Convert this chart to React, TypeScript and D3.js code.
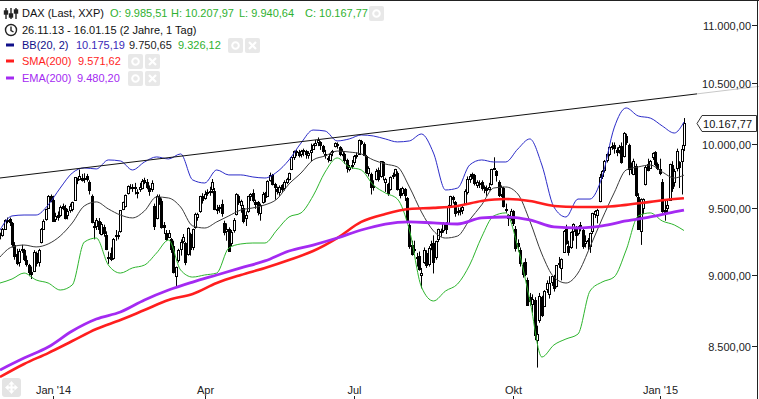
import { useEffect, useRef } from 'react';
import * as d3 from 'd3';

type Candle = [number, number, number, number]; // open, high, low, close

// daily candles, one array per month
const nov13: Candle[] = [
  [9300, 9310, 9260, 9292], [9290, 9345, 9280, 9336], [9340, 9410, 9330, 9403], [9400, 9424, 9380, 9405],
];
const dec13: Candle[] = [
  [9410, 9424, 9360, 9389], [9380, 9390, 9200, 9225], [9220, 9240, 9110, 9140], [9150, 9190, 9070, 9085], [9090, 9190, 9060, 9172],
  [9180, 9220, 9160, 9190], [9185, 9190, 9100, 9114], [9110, 9140, 9060, 9077], [9070, 9080, 8990, 9017], [9020, 9060, 8970, 9006],
  [9030, 9180, 9020, 9163], [9160, 9170, 9060, 9085], [9090, 9190, 9060, 9181], [9240, 9345, 9230, 9336], [9340, 9410, 9330, 9400],
  [9410, 9490, 9400, 9488], [9500, 9595, 9495, 9589], [9585, 9600, 9540, 9552],
];
const jan14: Candle[] = [
  [9560, 9590, 9390, 9400], [9410, 9460, 9390, 9435],
  [9440, 9470, 9400, 9428], [9440, 9515, 9430, 9506], [9510, 9530, 9480, 9498], [9500, 9520, 9410, 9421], [9440, 9490, 9410, 9473],
  [9480, 9530, 9460, 9510], [9490, 9545, 9470, 9540], [9560, 9735, 9555, 9733], [9720, 9730, 9680, 9717], [9720, 9794, 9710, 9742],
  [9730, 9760, 9700, 9715], [9720, 9765, 9690, 9730], [9740, 9760, 9700, 9720], [9700, 9710, 9600, 9631], [9590, 9600, 9380, 9392],
  [9360, 9390, 9260, 9349], [9360, 9420, 9330, 9406], [9400, 9420, 9300, 9336], [9300, 9390, 9290, 9374], [9350, 9370, 9280, 9306],
];
const feb14: Candle[] = [
  [9290, 9320, 9180, 9186], [9130, 9170, 9080, 9128], [9160, 9200, 9100, 9116], [9120, 9270, 9110, 9265], [9290, 9330, 9250, 9291],
  [9290, 9320, 9260, 9285], [9320, 9480, 9310, 9478], [9490, 9545, 9480, 9540], [9510, 9600, 9500, 9596], [9610, 9670, 9600, 9662],
  [9660, 9680, 9640, 9660], [9660, 9680, 9620, 9656], [9660, 9690, 9600, 9660], [9610, 9640, 9570, 9618], [9640, 9690, 9620, 9656],
  [9650, 9720, 9640, 9708], [9710, 9730, 9680, 9699], [9700, 9720, 9640, 9661], [9650, 9670, 9590, 9628], [9640, 9710, 9620, 9692],
];
const mar14: Candle[] = [
  [9510, 9530, 9330, 9359], [9420, 9600, 9410, 9589], [9580, 9600, 9520, 9542], [9550, 9570, 9340, 9351], [9370, 9390, 9300, 9350],
  [9310, 9330, 9250, 9265], [9280, 9330, 9270, 9307], [9260, 9270, 9160, 9189], [9210, 9250, 9010, 9017], [8990, 9060, 8913, 9056],
  [9110, 9190, 9090, 9181], [9190, 9260, 9140, 9242], [9250, 9300, 9230, 9277], [9230, 9240, 9070, 9093], [9150, 9350, 9140, 9342],
  [9300, 9310, 9140, 9189], [9200, 9340, 9180, 9338], [9350, 9460, 9340, 9448], [9430, 9460, 9400, 9451], [9470, 9590, 9460, 9587],
  [9590, 9610, 9530, 9556],
];
const apr14: Candle[] = [
  [9570, 9630, 9560, 9603], [9610, 9640, 9590, 9623], [9620, 9660, 9590, 9628], [9640, 9720, 9610, 9695],
  [9630, 9650, 9480, 9490], [9480, 9520, 9450, 9490], [9500, 9520, 9460, 9507], [9530, 9560, 9430, 9455], [9380, 9400, 9290, 9315],
  [9320, 9380, 9250, 9339], [9340, 9350, 9170, 9173], [9230, 9330, 9210, 9317], [9330, 9420, 9310, 9409],
  [9450, 9610, 9440, 9600], [9590, 9600, 9520, 9545], [9520, 9560, 9460, 9549], [9500, 9520, 9380, 9401],
  [9420, 9470, 9360, 9446], [9470, 9590, 9460, 9585], [9590, 9610, 9550, 9603],
];
const may14: Candle[] = [
  [9610, 9640, 9540, 9556],
  [9540, 9560, 9490, 9529], [9540, 9550, 9440, 9467], [9460, 9530, 9400, 9521], [9540, 9620, 9530, 9607], [9610, 9620, 9540, 9581],
  [9590, 9710, 9580, 9703], [9710, 9770, 9700, 9755], [9750, 9760, 9670, 9681], [9680, 9690, 9560, 9656], [9640, 9660, 9600, 9630],
  [9620, 9670, 9590, 9659], [9670, 9680, 9620, 9639], [9650, 9710, 9630, 9697], [9700, 9730, 9680, 9721], [9720, 9770, 9710, 9768],
  [9800, 9900, 9790, 9892], [9890, 9945, 9870, 9940], [9940, 9950, 9900, 9939], [9930, 9950, 9890, 9913], [9920, 9950, 9890, 9943],
];
const jun14: Candle[] = [
  [9950, 9960, 9900, 9950], [9940, 9950, 9880, 9920], [9910, 9940, 9880, 9926], [9930, 10000, 9860, 9947], [9960, 10000, 9950, 9987],
  [9990, 10030, 9980, 10008], [10010, 10050, 9980, 10028], [10010, 10020, 9950, 9990], [9980, 9990, 9920, 9938], [9920, 9950, 9880, 9912],
  [9880, 9900, 9850, 9883], [9870, 9930, 9860, 9920], [9930, 9950, 9900, 9942], [9980, 10010, 9970, 10004], [10000, 10010, 9960, 9987],
  [9970, 9980, 9900, 9920], [9920, 9960, 9900, 9938], [9920, 9930, 9840, 9867], [9870, 9880, 9770, 9805], [9800, 9830, 9780, 9815],
  [9820, 9870, 9800, 9833],
];
const jul14: Candle[] = [
  [9850, 9910, 9830, 9903], [9910, 9930, 9880, 9902], [9920, 10033, 9910, 10029], [10020, 10030, 9990, 10009],
  [10000, 10010, 9900, 9906], [9900, 9910, 9760, 9772], [9770, 9820, 9740, 9808], [9760, 9770, 9600, 9659], [9660, 9710, 9630, 9666],
  [9720, 9800, 9710, 9783], [9790, 9810, 9700, 9719], [9740, 9860, 9730, 9859], [9850, 9860, 9710, 9753], [9700, 9730, 9620, 9720],
  [9680, 9690, 9590, 9612], [9640, 9740, 9630, 9734], [9740, 9770, 9720, 9753], [9760, 9800, 9740, 9797], [9770, 9780, 9630, 9644],
  [9640, 9650, 9570, 9593], [9610, 9660, 9590, 9653], [9640, 9650, 9550, 9593], [9570, 9580, 9400, 9407],
];
const aug14: Candle[] = [
  [9370, 9380, 9190, 9210],
  [9220, 9250, 9140, 9154], [9180, 9250, 9160, 9189], [9130, 9160, 9060, 9130], [9140, 9170, 9030, 9039], [9000, 9050, 8903, 9010],
  [9090, 9200, 9080, 9180], [9160, 9180, 9050, 9069], [9080, 9210, 9060, 9199], [9220, 9250, 9180, 9225], [9230, 9290, 9010, 9092],
  [9130, 9250, 9110, 9245], [9260, 9340, 9240, 9334], [9320, 9340, 9280, 9314], [9330, 9390, 9310, 9380], [9380, 9390, 9300, 9339],
  [9380, 9520, 9370, 9510], [9520, 9590, 9510, 9588], [9580, 9590, 9530, 9569], [9540, 9550, 9430, 9462], [9470, 9500, 9440, 9470],
];
const sep14: Candle[] = [
  [9480, 9500, 9440, 9479], [9480, 9520, 9450, 9507], [9530, 9640, 9520, 9626], [9620, 9740, 9600, 9724], [9720, 9760, 9690, 9747],
  [9750, 9770, 9720, 9758], [9750, 9760, 9670, 9686], [9670, 9710, 9650, 9700], [9690, 9710, 9650, 9691], [9700, 9710, 9630, 9651],
  [9660, 9670, 9610, 9660], [9650, 9670, 9590, 9632], [9640, 9690, 9630, 9661], [9680, 9800, 9670, 9799], [9810, 9891, 9790, 9799],
  [9780, 9790, 9700, 9749], [9700, 9710, 9580, 9595], [9600, 9670, 9580, 9661], [9650, 9660, 9500, 9510], [9490, 9530, 9460, 9490],
  [9440, 9450, 9360, 9422], [9420, 9490, 9400, 9474],
];
const oct14: Candle[] = [
  [9470, 9480, 9360, 9382], [9340, 9360, 9170, 9195],
  [9230, 9260, 9170, 9209], [9180, 9200, 9060, 9086], [9070, 9090, 8980, 9005], [9090, 9120, 8990, 9005], [8960, 8980, 8780, 8788],
  [8840, 8870, 8780, 8812], [8790, 8860, 8730, 8825], [8820, 8840, 8540, 8572], [8540, 8640, 8354, 8582], [8680, 8870, 8660, 8850],
  [8840, 8850, 8700, 8717], [8780, 8890, 8770, 8886], [8900, 8960, 8870, 8940], [8860, 8990, 8830, 8940], [8950, 8990, 8920, 8988],
  [8990, 9000, 8880, 8902], [8920, 9070, 8910, 9068], [9080, 9130, 9050, 9083], [9050, 9120, 8960, 9114], [9170, 9330, 9160, 9326],
];
const nov14: Candle[] = [
  [9340, 9370, 9220, 9235], [9210, 9250, 9140, 9167], [9200, 9320, 9190, 9315], [9320, 9380, 9250, 9377], [9350, 9360, 9190, 9291],
  [9310, 9360, 9290, 9351], [9370, 9390, 9320, 9369], [9330, 9340, 9190, 9210], [9230, 9290, 9200, 9248], [9250, 9270, 9180, 9252],
  [9210, 9310, 9160, 9306], [9320, 9460, 9300, 9456], [9450, 9480, 9420, 9473], [9440, 9490, 9380, 9484], [9550, 9760, 9540, 9732],
  [9740, 9790, 9720, 9785], [9790, 9870, 9770, 9861], [9870, 9920, 9850, 9915], [9920, 9980, 9900, 9974], [9980, 10010, 9950, 9980],
];
const dec14: Candle[] = [
  [9990, 10010, 9920, 9963], [9950, 9970, 9900, 9934], [9950, 9990, 9920, 9971], [9980, 10010, 9840, 9851], [9900, 10093, 9890, 10087],
  [10060, 10080, 9990, 10014], [9990, 10000, 9750, 9799], [9810, 9850, 9760, 9799], [9760, 9880, 9750, 9862], [9820, 9840, 9580, 9594],
  [9580, 9610, 9330, 9334], [9320, 9570, 9219, 9564], [9500, 9570, 9450, 9563], [9680, 9830, 9670, 9811], [9840, 9880, 9780, 9787],
  [9810, 9870, 9800, 9865], [9890, 9930, 9870, 9922], [9930, 9940, 9820, 9835], [9840, 9850, 9790, 9806],
];
const jan15: Candle[] = [
  [9800, 9880, 9750, 9765],
  [9700, 9720, 9460, 9473], [9480, 9560, 9400, 9469], [9500, 9550, 9460, 9518], [9560, 9840, 9550, 9838], [9830, 9860, 9620, 9648],
  [9700, 9800, 9660, 9781], [9810, 9960, 9780, 9941], [9850, 9860, 9650, 9817], [9860, 9990, 9600, 9960], [9985.51, 10207.97, 9940.64, 10167.77],
];

const months = [nov13, dec13, jan14, feb14, mar14, apr14, may14, jun14, jul14, aug14, sep14, oct14, nov14, dec14, jan15];
const axisMonths: [string, Candle[]][] = [["Jan '14", jan14], ['Apr', apr14], ['Jul', jul14], ['Okt', oct14], ["Jan '15", jan15]];
const priceTicks = [8500, 9000, 9500, 10000, 10500, 11000];

// Bollinger band, read every 5th trading day (last one = last day)
const bbUpper = [9330, 9436, 9443, 9443, 9520, 9650, 9767, 9807, 9799, 9870, 9862, 9791, 9854, 9894, 9878, 9918, 9713, 9689, 9791, 9752,
  9752, 9736, 9728, 9775, 9870, 10005, 10110, 10102, 10022, 10038, 10070, 10062, 10038, 10014, 10022, 10078, 9925, 9635, 9650, 9830,
  9870, 9854, 9854, 9957, 10038, 9830, 9504, 9428, 9565, 9565, 9736, 10127, 10291, 10225, 10208, 10143, 10086, 10175.19];
const bbMiddle = [9130, 9204, 9218, 9204, 9226, 9285, 9383, 9512, 9543, 9489, 9443, 9421, 9474, 9581, 9573, 9504, 9361, 9345, 9391, 9436,
  9481, 9497, 9520, 9565, 9681, 9767, 9870, 9902, 9941, 9933, 9918, 9870, 9838, 9815, 9658, 9466, 9323, 9270, 9285, 9406,
  9520, 9650, 9658, 9604, 9398, 9152, 8984, 8941, 9013, 9204, 9413, 9612, 9791, 9815, 9830, 9775, 9728, 9750.65];
const bbLower = [8941, 8970, 9013, 8963, 8941, 8891, 8927, 9240, 9270, 9071, 9013, 9050, 9071, 9159, 9255, 9035, 8984, 8999, 9013, 9196,
  9226, 9233, 9233, 9330, 9428, 9459, 9589, 9775, 9886, 9815, 9791, 9674, 9612, 9565, 9330, 8913, 8813, 8884, 8934, 9071,
  9278, 9436, 9459, 9204, 8820, 8425, 8507, 8548, 8582, 8884, 8948, 8984, 9181, 9436, 9459, 9398, 9368, 9326.12];

// moving averages, read every 10th trading day
const sma200 = [8291, 8378, 8452, 8534, 8617, 8679, 8749, 8820, 8863, 8941, 8999, 9050, 9108, 9174, 9270, 9391, 9451, 9489, 9497, 9512,
  9550, 9565, 9550, 9512, 9504, 9504, 9520, 9543, 9565, 9571.62];
const ema200 = [8338, 8418, 8493, 8603, 8686, 8735, 8820, 8891, 8948, 8999, 9050, 9101, 9174, 9218, 9270, 9330, 9375, 9391, 9383, 9375,
  9421, 9428, 9406, 9353, 9345, 9361, 9398, 9428, 9466, 9480.20];

// drawn trend line: [trading day, price]
const trendLine: [number, number][] = [[0, 9728], [289, 10407]];

const FONT = "'Liberation Sans', Arial, sans-serif";

export default function App() {
  const svgRef = useRef<SVGSVGElement>(null);

  useEffect(() => {
    if (!svgRef.current) return;
    const svg = d3.select(svgRef.current);
    svg.selectAll('*').remove();

    const width = 759;
    const height = 399;
    const plotRight = 697;

    const candles = months.flat();
    const last = candles.length - 1;
    const de = d3.formatLocale({ decimal: ',', thousands: '.', grouping: [3], currency: ['', ''] });
    const fmt = de.format(',.2f');

    const x = d3.scaleLinear().domain([0, 289]).range([0, 696]);
    const y = d3.scaleLog().domain([8500, 11000]).range([346, 25]);

    svg.append('rect').attr('width', width).attr('height', height).attr('fill', '#fff');

    svg.append('defs').append('clipPath').attr('id', 'plot')
      .append('rect').attr('x', 0).attr('y', 0).attr('width', plotRight).attr('height', 383);

    const plot = svg.append('g').attr('clip-path', 'url(#plot)');

    // Candles
    const cx = (i: number) => Math.round(x(i)) + 0.5;
    const cg = plot.append('g');
    candles.forEach((d, i) => {
      const [o, h, l, c] = d;
      cg.append('line')
        .attr('x1', cx(i)).attr('x2', cx(i))
        .attr('y1', y(h)).attr('y2', y(l))
        .attr('stroke', '#000').attr('stroke-width', 1);
      const top = Math.round(y(Math.max(o, c))) + 0.5;
      const bot = Math.round(y(Math.min(o, c))) + 0.5;
      cg.append('rect')
        .attr('x', cx(i) - 1).attr('y', top)
        .attr('width', 2).attr('height', Math.max(1, bot - top))
        .attr('fill', c >= o ? '#fff' : '#000')
        .attr('stroke', '#000').attr('stroke-width', 1);
    });

    // Bollinger band
    const bandDays = d3.range(0, last, 5).concat([last]);
    const maDays = d3.range(0, last, 10).concat([last]);
    const line = (days: number[]) => d3.line<number>()
      .x((_, i) => x(days[i]))
      .y(d => y(d))
      .curve(d3.curveMonotoneX);

    const series: [number[], number[], string, number][] = [
      [bbUpper, bandDays, '#2b2bc8', 1],
      [bbMiddle, bandDays, '#3a3a3a', 1],
      [bbLower, bandDays, '#2db52d', 1],
      [sma200, maDays, '#ff1e1e', 2.6],
      [ema200, maDays, '#a42af2', 2.8],
    ];
    series.forEach(([vals, days, color, w]) => {
      plot.append('path')
        .datum(vals)
        .attr('fill', 'none')
        .attr('stroke', color)
        .attr('stroke-width', w)
        .attr('d', line(days));
    });

    // Trend line (continues faintly over the price axis)
    const [p0, p1] = trendLine;
    const tx0 = x(p0[0]), ty0 = y(p0[1]), tx1 = x(p1[0]), ty1 = y(p1[1]);
    const slope = (ty1 - ty0) / (tx1 - tx0);
    svg.append('line')
      .attr('x1', tx0).attr('y1', ty0).attr('x2', plotRight).attr('y2', ty0 + slope * (plotRight - tx0))
      .attr('stroke', '#111').attr('stroke-width', 1);
    svg.append('line')
      .attr('x1', plotRight).attr('y1', ty0 + slope * (plotRight - tx0))
      .attr('x2', width).attr('y2', ty0 + slope * (width - tx0))
      .attr('stroke', '#c8c8c8').attr('stroke-width', 1);

    // Price axis
    const ya = svg.append('g').style('font-family', FONT).style('font-size', '11px');
    priceTicks.forEach(v => {
      const yy = Math.round(y(v)) + 0.5;
      ya.append('text').attr('x', 751).attr('y', yy + 4).attr('text-anchor', 'end').attr('fill', '#222').text(fmt(v));
      ya.append('line').attr('x1', 752).attr('x2', 757).attr('y1', yy).attr('y2', yy).attr('stroke', '#222');
    });

    // Last price marker
    const lastClose = candles[last][3];
    const ly = Math.round(y(lastClose)) + 0.5;
    svg.append('path')
      .attr('d', `M${plotRight},${ly} L${plotRight + 5},${ly - 8} L756.5,${ly - 8} L756.5,${ly + 8} L${plotRight + 5},${ly + 8} Z`)
      .attr('fill', '#fff').attr('stroke', '#333').attr('stroke-width', 1);
    svg.append('text').attr('x', 752).attr('y', ly + 4).attr('text-anchor', 'end')
      .style('font-family', FONT).style('font-size', '11px').attr('fill', '#111').text(fmt(lastClose));

    // Time axis
    const xa = svg.append('g').style('font-family', FONT).style('font-size', '11px');
    let offset = 0;
    const monthStart = new Map<Candle[], number>();
    months.forEach(m => { monthStart.set(m, offset); offset += m.length; });
    axisMonths.forEach(([label, m]) => {
      const px = Math.round(x(monthStart.get(m)!)) + 0.5;
      xa.append('text').attr('x', px).attr('y', 394).attr('text-anchor', 'middle').attr('fill', '#222').text(label);
      xa.append('line').attr('x1', px).attr('x2', px).attr('y1', 396).attr('y2', 399).attr('stroke', '#222');
    });

    // Move handle bottom left
    const mh = svg.append('g').attr('transform', 'translate(2,378)');
    mh.append('rect').attr('width', 19).attr('height', 19).attr('rx', 3).attr('fill', '#e4e4e4');
    mh.append('path')
      .attr('d', 'M9.5,3 L12.5,6.5 L10.5,6.5 L10.5,8.5 L12.5,8.5 L12.5,6.5 L16,9.5 L12.5,12.5 L12.5,10.5 L10.5,10.5 L10.5,12.5 L12.5,12.5 L9.5,16 L6.5,12.5 L8.5,12.5 L8.5,10.5 L6.5,10.5 L6.5,12.5 L3,9.5 L6.5,6.5 L6.5,8.5 L8.5,8.5 L8.5,6.5 L6.5,6.5 Z')
      .attr('fill', '#fff');

    // Borders
    svg.append('line').attr('x1', 0).attr('x2', width).attr('y1', 0.5).attr('y2', 0.5).attr('stroke', '#222');
    svg.append('line').attr('x1', 757.5).attr('x2', 757.5).attr('y1', 0).attr('y2', height).attr('stroke', '#222');

    // Legend
    const lg = svg.append('g').style('font-family', FONT).style('font-size', '11px');
    const txt = (px: number, py: number, s: string, color: string) =>
      lg.append('text').attr('x', px).attr('y', py).attr('fill', color).text(s);
    const buttons = (px: number, py: number, n: number) => {
      for (let k = 0; k < n; k++) {
        const b = lg.append('g').attr('transform', `translate(${px + k * 17},${py - 7})`);
        b.append('rect').attr('width', 15).attr('height', 15).attr('rx', 2).attr('fill', '#e8e8e8');
        if (k === 0) {
          b.append('circle').attr('cx', 7.5).attr('cy', 7.5).attr('r', 3.3).attr('fill', 'none').attr('stroke', '#fff').attr('stroke-width', 2);
        } else {
          b.append('path').attr('d', 'M4,4 L11,11 M11,4 L4,11').attr('stroke', '#fff').attr('stroke-width', 2.2);
        }
      }
    };

    // row 1: instrument + OHLC
    const icon = lg.append('g').attr('stroke', '#222').attr('stroke-width', 1.4);
    [6, 11, 16].forEach((ix, k) => {
      icon.append('line').attr('x1', ix).attr('x2', ix).attr('y1', 8).attr('y2', 19);
      icon.append('rect').attr('x', ix - 1.5).attr('y', [11, 14, 10][k]).attr('width', 3).attr('height', 3).attr('fill', '#222');
    });
    txt(22, 17, 'DAX (Last, XXP)', '#111');
    const [o, h, l, c] = candles[last];
    const green = '#2fb12f';
    txt(110, 17, `O: ${fmt(o)}`, green);
    txt(171, 17, `H: ${fmt(h)}`, green);
    txt(239, 17, `L: ${fmt(l)}`, green);
    txt(305, 17, `C: ${fmt(c)}`, green);
    buttons(369, 13, 1);

    // row 2: date range
    const clk = lg.append('g').attr('fill', 'none').attr('stroke', '#222').attr('stroke-width', 1.4);
    clk.append('circle').attr('cx', 11).attr('cy', 30).attr('r', 5.5);
    clk.append('path').attr('d', 'M11,26.5 L11,30.5 L13.5,32');
    txt(22, 34, '26.11.13 - 16.01.15 (2 Jahre, 1 Tag)', '#111');

    // rows 3-5: indicators
    const dash = (py: number, color: string) =>
      lg.append('rect').attr('x', 6).attr('y', py - 1.5).attr('width', 8).attr('height', 3).attr('fill', color);

    dash(45, '#10108a');
    txt(22, 49, 'BB(20, 2)', '#10108a');
    txt(76, 49, fmt(bbUpper[bbUpper.length - 1]), '#3a2ab8');
    txt(129, 49, fmt(bbMiddle[bbMiddle.length - 1]), '#222');
    txt(178, 49, fmt(bbLower[bbLower.length - 1]), '#2fb12f');
    buttons(228, 45, 2);

    dash(61, '#ff1e1e');
    txt(22, 65, 'SMA(200)', '#ff1e1e');
    txt(78, 65, fmt(sma200[sma200.length - 1]), '#ff1e1e');
    buttons(128, 61, 2);

    dash(78, '#a42af2');
    txt(22, 82, 'EMA(200)', '#a42af2');
    txt(77, 82, fmt(ema200[ema200.length - 1]), '#a42af2');
    buttons(128, 78, 2);
  }, []);

  return (
    <div style={{ position: 'absolute', left: 0, top: 0 }}>
      <svg ref={svgRef} width={759} height={399} style={{ display: 'block' }} />
    </div>
  );
}
